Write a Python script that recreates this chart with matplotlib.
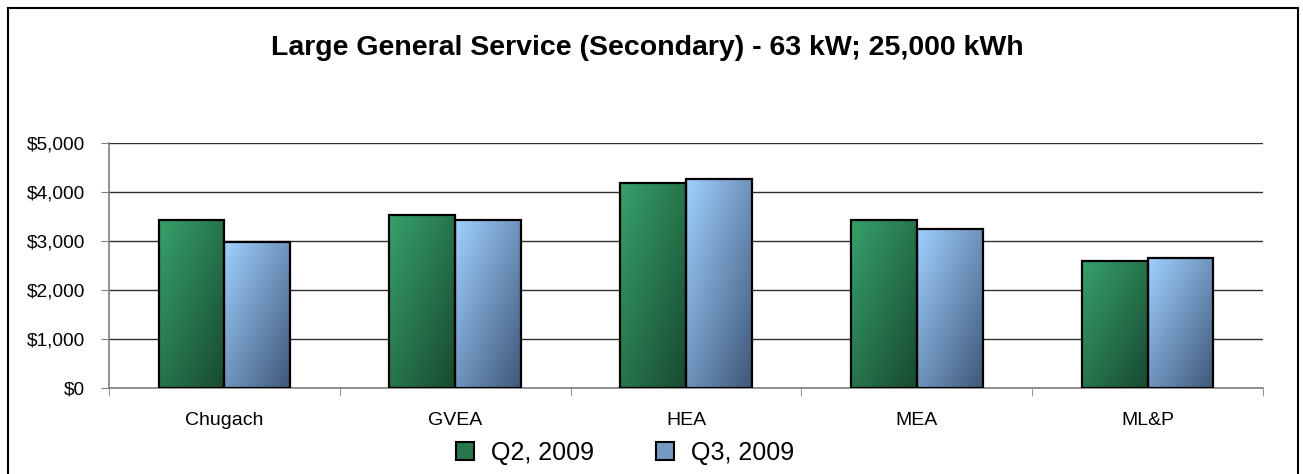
import numpy as np
import matplotlib
matplotlib.use("Agg")
import matplotlib.pyplot as plt
from matplotlib.colors import LinearSegmentedColormap
from matplotlib.patches import Rectangle
from matplotlib.ticker import FuncFormatter, FixedLocator

plt.rcParams['font.family'] = ['Liberation Sans', 'DejaVu Sans']

# data
utilities = ["Chugach", "GVEA", "HEA", "MEA", "ML&P"]
q2_2009 = [3430, 3545, 4195, 3425, 2605]
q3_2009 = [2995, 3425, 4280, 3250, 2650]
series_names = ["Q2, 2009", "Q3, 2009"]

green = LinearSegmentedColormap.from_list("g", ["#36a06a", "#184a30"])
blue = LinearSegmentedColormap.from_list("b", ["#9fd0ff", "#40587a"])

W, H = 1303, 474
fig = plt.figure(figsize=(W / 100, H / 100), dpi=100)
ax = fig.add_axes([109 / W, 1 - 388.3 / H, (1263 - 109) / W, (388.3 - 143.3) / H])

x = np.arange(len(utilities))
bw = 0.285

# diagonal gradient, light top-left -> dark bottom-right
u = np.linspace(0, 1, 60)
uu, vv = np.meshgrid(u, u)
grad = 0.5 * (uu + vv)

def gradient_bars(xs, vals, cmap):
    bars = ax.bar(xs, vals, bw, facecolor="none", edgecolor="black", lw=1.6, zorder=4)
    for b in bars:
        x0, y0 = b.get_x(), b.get_y()
        im = ax.imshow(grad, cmap=cmap, extent=(x0, x0 + b.get_width(), y0, y0 + b.get_height()),
                       origin="upper", aspect="auto", zorder=3, interpolation="bilinear")
        im.set_clip_path(b)
    return bars

b1 = gradient_bars(x - bw / 2, q2_2009, green)
b2 = gradient_bars(x + bw / 2, q3_2009, blue)

ax.set_xlim(-0.5, len(utilities) - 0.5)
ax.set_ylim(0, 5000)
ax.set_yticks(np.arange(0, 5001, 1000))
ax.yaxis.set_major_formatter(FuncFormatter(lambda v, p: f"${v:,.0f}"))
ax.grid(axis="y", color="#303030", lw=1)
ax.set_axisbelow(True)

ax.set_xticks(x)
ax.set_xticklabels(utilities, fontsize=14)
ax.xaxis.set_minor_locator(FixedLocator(np.arange(-0.5, len(utilities), 1.0)))
ax.tick_params(axis="x", which="major", length=0, pad=17)
ax.tick_params(axis="x", which="minor", length=6, color="#808080", direction="out")
ax.tick_params(axis="y", length=6, color="#808080", labelsize=13.8, pad=11)

for s in ["top", "right"]:
    ax.spines[s].set_visible(False)
for s in ["left", "bottom"]:
    ax.spines[s].set_color("#808080")
    ax.spines[s].set_linewidth(1.2)

fig.text(647 / W, 1 - 55 / H, "Large General Service (Secondary) - 63 kW; 25,000 kWh",
         ha="center", va="baseline", fontsize=20.5, fontweight="bold")

handles = [Rectangle((0, 0), 1, 1, facecolor=green(0.5), edgecolor="black", lw=1.5),
           Rectangle((0, 0), 1, 1, facecolor=blue(0.45), edgecolor="black", lw=1.5)]
fig.legend(handles, series_names, loc="center", bbox_to_anchor=(625 / W, 1 - 453 / H),
           ncol=2, frameon=False, fontsize=18, handlelength=0.72, handleheight=0.72,
           handletextpad=0.68, columnspacing=2.5)

# outer chart frame (bottom edge runs off the image)
fig.patches.append(Rectangle((8 / W, -0.05), 1290 / W, 1.05 - 8 / H, transform=fig.transFigure,
                             fill=False, edgecolor="black", lw=1.5))

fig.savefig("out.png", dpi=100)
